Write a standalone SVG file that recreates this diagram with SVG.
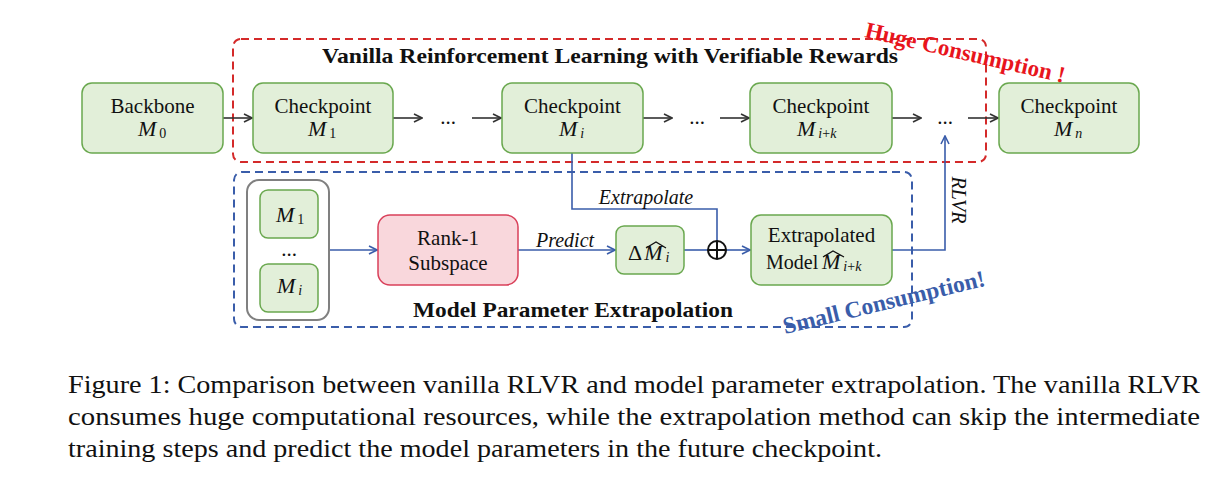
<svg xmlns="http://www.w3.org/2000/svg" width="1219" height="485" viewBox="0 0 1219 485">
<style>
.box{fill:#e2efd9;stroke:#6aa84f;stroke-width:1.5}
.pink{fill:#f9d7dc;stroke:#d9405a;stroke-width:1.5}
.t{font-family:"Liberation Serif","Times New Roman",serif;font-size:21px;fill:#111;text-anchor:middle}
.m{font-family:"Liberation Serif","Times New Roman",serif;font-style:italic;font-size:22px;fill:#111}
.lbl{font-family:"Liberation Serif","Times New Roman",serif;font-style:italic;font-size:20px;fill:#111;text-anchor:middle}
.sub{font-size:14px}
.up{font-style:normal}
.hat{fill:none;stroke:#111;stroke-width:1.3}
.bk{stroke:#333;stroke-width:1.6;fill:none}
.bl{stroke:#3a5daa;stroke-width:1.6;fill:none}
.cap{font-family:"Liberation Serif","Times New Roman",serif;font-size:26px;fill:#111}
.bold{font-family:"Liberation Serif","Times New Roman",serif;font-weight:bold;font-size:22px;fill:#111}
</style>
<defs>
<marker id="ak" viewBox="0 0 10 10" refX="9" refY="5" markerWidth="10" markerHeight="10" markerUnits="userSpaceOnUse" orient="auto"><path d="M1,1 L9,5 L1,9" fill="none" stroke="#333" stroke-width="1.6"/></marker>
<marker id="ab" viewBox="0 0 10 10" refX="9" refY="5" markerWidth="10" markerHeight="10" markerUnits="userSpaceOnUse" orient="auto"><path d="M1,1 L9,5 L1,9" fill="none" stroke="#3a5daa" stroke-width="1.6"/></marker>
</defs>

<g id="groups">
<rect x="233" y="39" width="753" height="123" rx="8" fill="none" stroke="#d42a2a" stroke-width="2" stroke-dasharray="8,5"/>
<rect x="234" y="172" width="678" height="155" rx="8" fill="none" stroke="#3a5daa" stroke-width="2" stroke-dasharray="8,5"/>
<text class="bold" x="322" y="63" textLength="576" lengthAdjust="spacingAndGlyphs">Vanilla Reinforcement Learning with Verifiable Rewards</text>
<text class="bold" x="413" y="317" textLength="320" lengthAdjust="spacingAndGlyphs">Model Parameter Extrapolation</text>
<text transform="translate(864,37) rotate(13)" font-family="Liberation Serif,serif" font-weight="bold" font-size="23" fill="#e8141c">Huge Consumption !</text>
<text transform="translate(785,334) rotate(-13.5)" font-family="Liberation Serif,serif" font-weight="bold" font-size="23.5" fill="#3a5daa">Small Consumption!</text>
</g>

<g id="connectors">
<line class="bk" x1="223" y1="118" x2="252" y2="118" marker-end="url(#ak)"/>
<line class="bk" x1="393" y1="118" x2="422" y2="118" marker-end="url(#ak)"/>
<line class="bk" x1="472" y1="118" x2="501" y2="118" marker-end="url(#ak)"/>
<line class="bk" x1="643" y1="118" x2="672" y2="118" marker-end="url(#ak)"/>
<line class="bk" x1="720" y1="118" x2="749" y2="118" marker-end="url(#ak)"/>
<line class="bk" x1="892" y1="118" x2="921" y2="118" marker-end="url(#ak)"/>
<line class="bk" x1="968" y1="118" x2="998" y2="118" marker-end="url(#ak)"/>
<text class="t" x="448" y="124">...</text>
<text class="t" x="697" y="124">...</text>
<text class="t" x="945" y="124">...</text>
<line class="bl" x1="329" y1="250" x2="377" y2="250" marker-end="url(#ab)"/>
<line class="bl" x1="518" y1="250" x2="615" y2="250" marker-end="url(#ab)"/>
<text class="lbl" x="565" y="247">Predict</text>
<polyline class="bl" points="572,153 572,209 717,209 717,241"/>
<text class="lbl" x="646" y="204">Extrapolate</text>
<line class="bl" x1="684" y1="250" x2="708" y2="250"/>
<line class="bl" x1="726" y1="250" x2="750" y2="250" marker-end="url(#ab)"/>
<circle cx="717" cy="250" r="9" fill="none" stroke="#111" stroke-width="2"/>
<line x1="708" y1="250" x2="726" y2="250" stroke="#111" stroke-width="2"/>
<line x1="717" y1="241" x2="717" y2="259" stroke="#111" stroke-width="2"/>
<polyline class="bl" points="892,250 945,250 945,136" marker-end="url(#ab)"/>
<text class="lbl" transform="translate(952,200) rotate(90)" font-size="18">RLVR</text>
</g>

<g id="backbone">
<rect class="box" x="82" y="83" width="141" height="70" rx="10"/>
<text class="t" x="152.5" y="113">Backbone</text>
<text class="m" x="138" y="136">M<tspan class="sub up" dx="3" dy="2">0</tspan></text>
</g>
<g id="ckpt1">
<rect class="box" x="253" y="83" width="140" height="70" rx="10"/>
<text class="t" x="323" y="113">Checkpoint</text>
<text class="m" x="308" y="136">M<tspan class="sub up" dx="3" dy="2">1</tspan></text>
</g>
<g id="ckpti">
<rect class="box" x="502" y="83" width="141" height="70" rx="10"/>
<text class="t" x="572.5" y="113">Checkpoint</text>
<text class="m" x="559" y="136">M<tspan class="sub" dx="3" dy="2">i</tspan></text>
</g>
<g id="ckptik">
<rect class="box" x="750" y="83" width="142" height="70" rx="10"/>
<text class="t" x="821" y="113">Checkpoint</text>
<text class="m" x="797" y="136">M<tspan class="sub" dx="3" dy="2">i</tspan><tspan class="sub up">+</tspan><tspan class="sub">k</tspan></text>
</g>
<g id="ckptn">
<rect class="box" x="999" y="83" width="140" height="70" rx="10"/>
<text class="t" x="1069" y="113">Checkpoint</text>
<text class="m" x="1054" y="136">M<tspan class="sub" dx="3" dy="2">n</tspan></text>
</g>

<g id="history">
<rect x="247" y="180" width="82" height="140" rx="12" fill="#fff" stroke="#808080" stroke-width="2"/>
<rect class="box" x="260" y="190" width="58" height="48" rx="8"/>
<text class="m" x="276" y="222">M<tspan class="sub up" dx="3" dy="2">1</tspan></text>
<text class="t" x="289" y="256">...</text>
<rect class="box" x="260" y="264" width="58" height="48" rx="8"/>
<text class="m" x="277" y="293">M<tspan class="sub" dx="3" dy="2">i</tspan></text>
</g>

<g id="rank1">
<rect class="pink" x="378" y="215" width="140" height="70" rx="12"/>
<text class="t" x="448" y="245">Rank-1</text>
<text class="t" x="448" y="270">Subspace</text>
</g>

<g id="delta">
<rect class="box" x="616" y="226" width="68" height="48" rx="8"/>
<text class="m" x="628" y="260"><tspan class="up">Δ</tspan><tspan dx="2">M</tspan><tspan class="sub" dx="3" dy="2">i</tspan></text>
<polyline class="hat" points="646,248 656,242 666,248"/>
</g>

<g id="extrapolated">
<rect class="box" x="751" y="215" width="141" height="70" rx="10"/>
<text class="t" x="821.5" y="242">Extrapolated</text>
<text class="t" x="766" y="269" style="text-anchor:start;font-size:20px">Model</text>
<text class="m" x="822" y="269">M<tspan class="sub" dx="3" dy="2">i</tspan><tspan class="sub up">+</tspan><tspan class="sub">k</tspan></text>
<polyline class="hat" points="823,257 833,251 844,257"/>
</g>

<g id="caption">
<text class="cap" x="68" y="393" textLength="1132" lengthAdjust="spacingAndGlyphs">Figure 1: Comparison between vanilla RLVR and model parameter extrapolation. The vanilla RLVR</text>
<text class="cap" x="68" y="425" textLength="1132" lengthAdjust="spacingAndGlyphs">consumes huge computational resources, while the extrapolation method can skip the intermediate</text>
<text class="cap" x="68" y="457" textLength="814" lengthAdjust="spacingAndGlyphs">training steps and predict the model parameters in the future checkpoint.</text>
</g>
</svg>
